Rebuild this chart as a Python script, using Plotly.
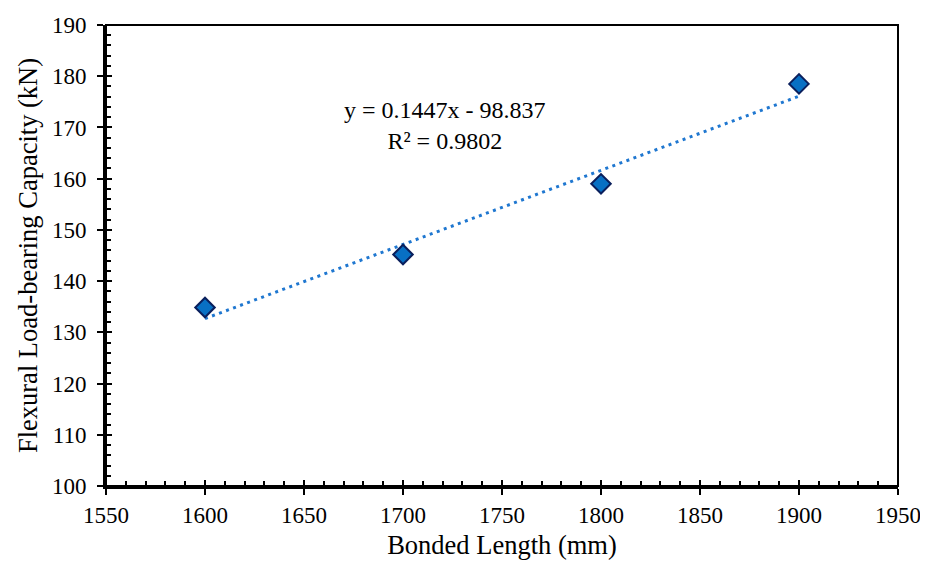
import numpy as np
import plotly.graph_objects as go

bonded_length = [1600, 1700, 1800, 1900]
capacity = [134.85, 145.2, 159.0, 178.5]
x_ticks = [1550, 1600, 1650, 1700, 1750, 1800, 1850, 1900, 1950]
y_ticks = [100, 110, 120, 130, 140, 150, 160, 170, 180, 190]
eq_text = "y = 0.1447x - 98.837<br>R² = 0.9802"

slope, intercept = np.polyfit(bonded_length, capacity, 1)
trend_x = [bonded_length[0], bonded_length[-1]]
trend_y = [slope * v + intercept for v in trend_x]

FONT = "Liberation Serif"
TICK_FS = 23
TITLE_FS = 26.5
ANN_FS = 24

fig = go.Figure()
fig.add_trace(go.Scatter(
    x=trend_x, y=trend_y, mode="lines",
    line=dict(color="#1F77D0", width=3, dash="3px,4.5px"),
    showlegend=False, hoverinfo="skip"))
fig.add_trace(go.Scatter(
    x=bonded_length, y=capacity, mode="markers",
    marker=dict(symbol="diamond", size=15, color="#0870C4",
                line=dict(color="#0A1F5C", width=2)),
    showlegend=False))
# invisible trace on overlay axes (for crossing major ticks)
fig.add_trace(go.Scatter(x=[bonded_length[0]], y=[capacity[0]], xaxis="x2", yaxis="y2",
                         mode="markers", marker=dict(opacity=0), showlegend=False,
                         hoverinfo="skip"))

xr = [x_ticks[0], x_ticks[-1]]
yr = [y_ticks[0], y_ticks[-1]]

fig.update_layout(
    width=920, height=555,
    margin=dict(l=98, r=30, t=17, b=77, autoexpand=False),
    paper_bgcolor="white", plot_bgcolor="white",
    font=dict(family=FONT, size=TICK_FS, color="black"),
    xaxis=dict(range=xr, tickvals=x_ticks, ticks="outside", ticklen=6, tickwidth=2,
               tickcolor="black", showline=True, linewidth=3, linecolor="black",
               showgrid=False, zeroline=False,
               minor=dict(dtick=10, ticks="inside", ticklen=5, tickwidth=2,
                          tickcolor="black", showgrid=False),
               title=dict(text="Bonded Length (mm)", font=dict(family=FONT, size=TITLE_FS),
                          standoff=9),
               tickfont=dict(family=FONT, size=TICK_FS)),
    yaxis=dict(range=yr, tickvals=y_ticks, ticks="outside", ticklen=6, tickwidth=2,
               tickcolor="black", showline=True, linewidth=3, linecolor="black",
               showgrid=False, zeroline=False, ticklabelstandoff=6,
               minor=dict(dtick=2, ticks="inside", ticklen=5, tickwidth=2,
                          tickcolor="black", showgrid=False),
               title=dict(text="Flexural Load-bearing Capacity (kN)",
                          font=dict(family=FONT, size=TITLE_FS), standoff=7),
               tickfont=dict(family=FONT, size=TICK_FS)),
    xaxis2=dict(overlaying="x", range=xr, tickvals=x_ticks, ticks="inside", ticklen=6,
                tickwidth=2, tickcolor="black", showticklabels=False, showgrid=False,
                zeroline=False, side="bottom", anchor="y2"),
    yaxis2=dict(overlaying="y", range=yr, tickvals=y_ticks, ticks="inside", ticklen=6,
                tickwidth=2, tickcolor="black", showticklabels=False, showgrid=False,
                zeroline=False, side="left", anchor="x2"),
    shapes=[dict(type="rect", xref="paper", yref="paper", x0=0, x1=1, y0=0, y1=1,
                 line=dict(color="black", width=2), layer="above")],
    annotations=[dict(x=1721, y=170.3, xref="x", yref="y", text=eq_text, showarrow=False,
                      xanchor="center", yanchor="middle", align="center",
                      font=dict(family=FONT, size=ANN_FS, color="black"))],
)

fig.write_html("out.html")
